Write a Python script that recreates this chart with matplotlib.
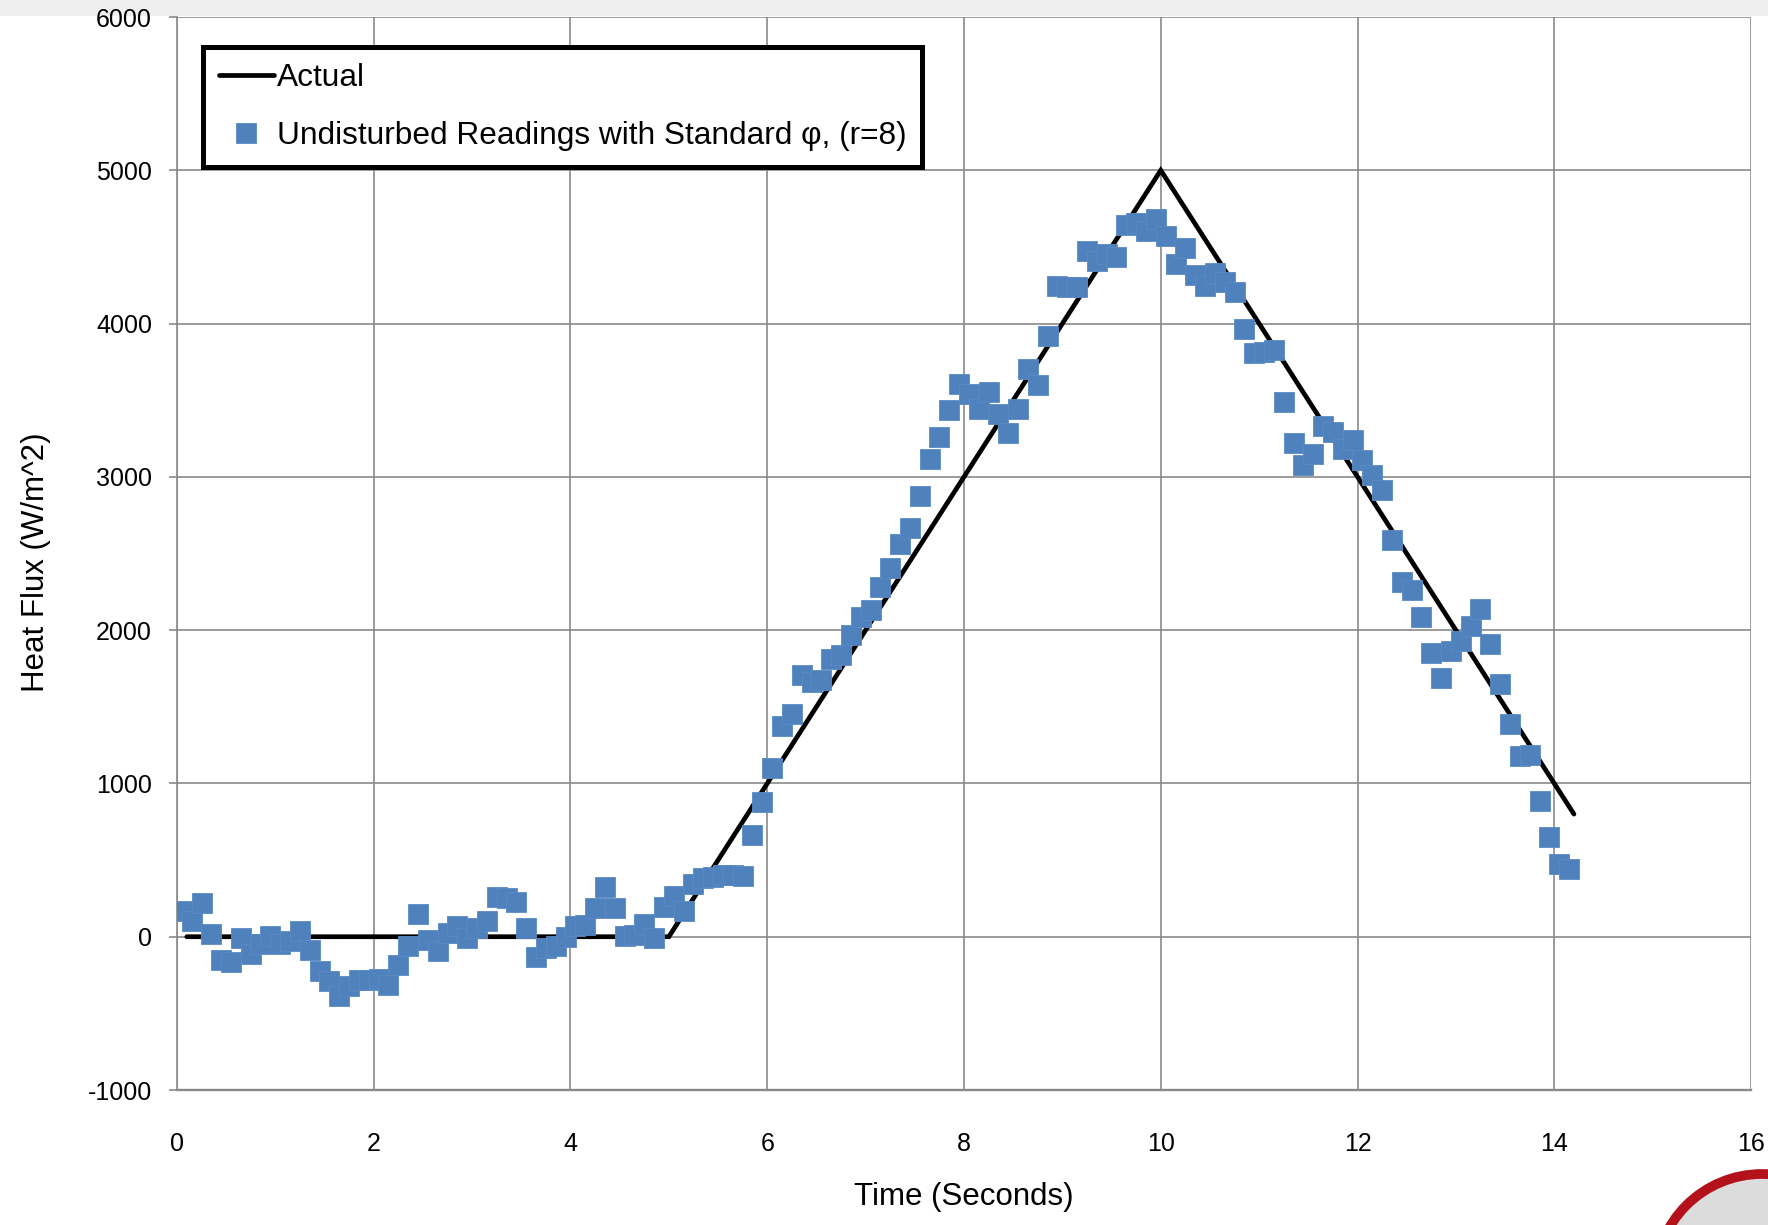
import numpy as np
import matplotlib
matplotlib.use("Agg")
import matplotlib.pyplot as plt
from matplotlib.patches import Rectangle, Circle

plt.rcParams['font.family'] = ['Liberation Sans', 'DejaVu Sans']
plt.rcParams['axes.unicode_minus'] = False

# actual heat flux profile (triangle pulse)
actual_t = [0.1, 5.0, 10.0, 14.2]
actual_q = [0, 0, 5000, 800]

# readings every 0.1 s starting at 0.05 s
t_start, t_step = 0.05, 0.1
readings = [
    165, 100, 222, 17, -150, -168, -9, -113, -45, 5,
    -45, -30, 35, -85, -226, -287, -385, -320, -280, -283,
    -275, -315, -187, -63, 146, -22, -91, 26, 72, -11,
    54, 104, 261, 250, 228, 54, -130, -76, -60, 0,
    72, 78, 189, 326, 189, 7, 11, 80, -11, 196,
    265, 167, 341, 384, 390, 401, 401, 395, 666, 878,
    1102, 1373, 1453, 1709, 1659, 1677, 1815, 1837, 1967, 2087,
    2130, 2284, 2408, 2564, 2668, 2876, 3118, 3261, 3435, 3603,
    3538, 3440, 3553, 3407, 3283, 3440, 3705, 3597, 3918, 4245,
    4240, 4240, 4473, 4408, 4452, 4432, 4641, 4658, 4604, 4682,
    4571, 4390, 4496, 4315, 4246, 4328, 4272, 4207, 3963, 3811,
    3815, 3825, 3491, 3224, 3080, 3148, 3333, 3293, 3180, 3241,
    3111, 3011, 2913, 2586, 2311, 2263, 2083, 1852, 1689, 1867,
    1932, 2029, 2135, 1910, 1648, 1390, 1180, 1188, 887, 649,
    473, 441,
]
reading_t = t_start + t_step * np.arange(len(readings))

x_ticks = [0, 2, 4, 6, 8, 10, 12, 14, 16]
y_ticks = [-1000, 0, 1000, 2000, 3000, 4000, 5000, 6000]

fig = plt.figure(figsize=(17.68, 12.25), dpi=100)
fig.patches.append(Rectangle((0, 1 - 16 / 1225), 1, 16 / 1225, transform=fig.transFigure,
                             facecolor='#efefef', edgecolor='none', zorder=-5))
ax = fig.add_axes([0.1001, 0.1102, 0.8903, 0.8759])

ax.plot(actual_t, actual_q, color='black', lw=3.4, solid_capstyle='round',
        solid_joinstyle='miter', label='Actual', zorder=3)
ax.plot(reading_t, readings, 's', ms=14.4, color='#4F81BD', mec='#5b8ac4', mew=0.6,
        label='Undisturbed Readings with Standard φ, (r=8)', zorder=4)

ax.set_xlim(0, 16)
ax.set_ylim(-1000, 6000)
ax.set_xticks(x_ticks)
ax.set_yticks(y_ticks)
ax.grid(True, color='#8a8a8a', lw=1.2)
ax.set_axisbelow(True)
for s in ['top', 'right']:
    ax.spines[s].set_visible(False)
ax.spines['left'].set_color('#8a8a8a')
ax.spines['left'].set_linewidth(1.2)
ax.spines['bottom'].set_color('#8a8a8a')
ax.spines['bottom'].set_linewidth(1.7)
ax.tick_params(axis='y', length=6, width=1.2, color='#8a8a8a', pad=12, labelsize=18)
ax.tick_params(axis='x', length=0, pad=30, labelsize=18)

ax.set_xlabel('Time (Seconds)', fontsize=22.5)
ax.xaxis.set_label_coords(0.5, -0.0997)
ax.xaxis.label.set_va('center')
ax.set_ylabel('Heat Flux (W/m^2)', fontsize=22.5)
ax.yaxis.set_label_coords(-0.0896, 0.492)
ax.yaxis.label.set_va('center')

leg = ax.legend(loc='upper left', bbox_to_anchor=(0.0165, 0.972), borderaxespad=0,
                fontsize=22.8, frameon=True, fancybox=False, edgecolor='black', framealpha=1,
                handlelength=1.75, handletextpad=0.08, labelspacing=0.88, borderpad=0.5)
leg.get_frame().set_linewidth(3.6)

# logo fragment in the lower right corner
fig.patches.append(Circle((17.62, -0.56), 1.07, transform=fig.dpi_scale_trans,
                          facecolor='#dcdcdc', edgecolor='#b3121b', lw=7))

fig.savefig('out.png', dpi=100)
